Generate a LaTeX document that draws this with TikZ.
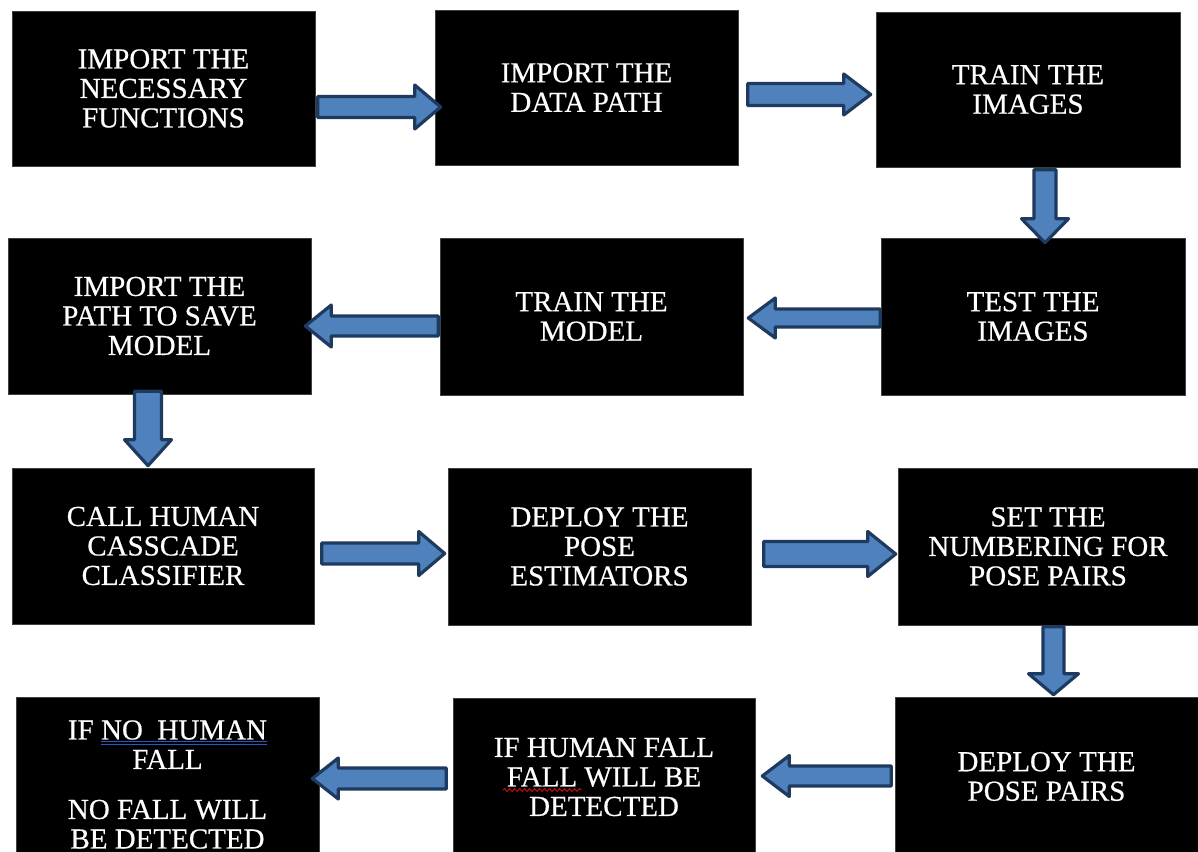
\documentclass[tikz,border=0pt]{standalone}
\usepackage{fontspec}
\setmainfont{Liberation Serif}[FakeBold=0.5]
\usetikzlibrary{calc,decorations.pathmorphing}
\definecolor{arrfill}{HTML}{4F81BD}
\definecolor{arrline}{HTML}{1F3A5F}
\definecolor{ulblue}{HTML}{2A55C8}
\definecolor{wavered}{HTML}{D01010}
\newcommand\dblul[1]{\setbox0\hbox{#1}\rlap{\textcolor{ulblue}{\rule[-2.5pt]{\wd0}{1.2pt}\kern-\wd0\rule[-5.5pt]{\wd0}{1.2pt}}}\box0}
% horizontal block arrow: start, tip, shaft half, head half, head length
\newcommand\harrow[5]{\draw[barrow] let \p1=(#1), \p2=(#2), \n1={ifthenelse(\x2>\x1,1,-1)} in
  (\x1,{\y1+#3pt}) -- ({\x2-(\n1)*#5pt},{\y1+#3pt}) -- ({\x2-(\n1)*#5pt},{\y1+#4pt}) -- (\x2,\y1)
  -- ({\x2-(\n1)*#5pt},{\y1-#4pt}) -- ({\x2-(\n1)*#5pt},{\y1-#3pt}) -- (\x1,{\y1-#3pt}) -- cycle;}
% vertical block arrow
\newcommand\varrow[5]{\draw[barrow] let \p1=(#1), \p2=(#2), \n1={ifthenelse(\y2>\y1,1,-1)} in
  ({\x1-#3pt},\y1) -- ({\x1-#3pt},{\y2-(\n1)*#5pt}) -- ({\x1-#4pt},{\y2-(\n1)*#5pt}) -- (\x1,\y2)
  -- ({\x1+#4pt},{\y2-(\n1)*#5pt}) -- ({\x1+#3pt},{\y2-(\n1)*#5pt}) -- ({\x1+#3pt},\y1) -- cycle;}
\tikzset{
  box/.style={fill=black, draw=black!75, line width=0.6pt, text=white, align=center,
    font=\fontsize{29}{29.5}\selectfont, inner sep=0pt, minimum width=303pt, minimum height=155pt},
  barrow/.style={fill=arrfill, draw=arrline, line width=3.2pt, line join=round},
}
\begin{document}
\begin{tikzpicture}[x=1pt,y=-1pt]
\useasboundingbox (0,0) rectangle (1198,851);
\clip (0,0) rectangle (1198,851);
\fill[white] (0,0) rectangle (1198,851);
% row 1
\node[box] (b1) at (163.5,88.5) {IMPORT THE\\NECESSARY\\FUNCTIONS};
\node[box] (b2) at (586.5,87.5) {IMPORT THE\\DATA PATH};
\node[box, minimum width=304pt] (b3) at (1028,89.5) {TRAIN THE\\IMAGES};
% row 2
\node[box, minimum height=156pt] (b4) at (159.5,316) {IMPORT THE\\PATH TO SAVE\\MODEL};
\node[box, minimum height=157pt] (b5) at (591.5,316.5) {TRAIN THE\\MODEL};
\node[box, minimum width=304pt, minimum height=157pt] (b6) at (1033,316.5) {TEST THE\\IMAGES};
% row 3
\node[box, minimum width=302pt, minimum height=156pt] (b7) at (163,546) {CALL HUMAN\\CASSCADE\\CLASSIFIER};
\node[box, minimum height=157pt] (b8) at (599.5,546.5) {DEPLOY THE\\POSE\\ESTIMATORS};
\node[box, minimum width=300pt, minimum height=157pt] (b9) at (1048,546.5) {SET THE\\NUMBERING FOR\\POSE PAIRS};
% row 4
\node[box, minimum height=175pt] (b10) at (167.5,784.5) {IF \dblul{NO\ \ HUMAN}\\FALL\\[20.5pt]NO FALL WILL\\BE DETECTED};
\node[box, minimum width=302pt, minimum height=158pt] (b11) at (604,777) {IF HUMAN FALL\\FALL WILL BE\\DETECTED};
\node[box, minimum height=159pt] (b12) at (1046.5,776.5) {DEPLOY THE\\POSE PAIRS};
\draw[wavered, line width=0.9pt, decorate, decoration={snake, amplitude=1.4pt, segment length=5pt}]
  ($(b11.center)+(-101,13)$) -- ($(b11.center)+(-22,13)$);
% arrows
\harrow{$(b1.east)+(2.5,18.5)$}{$(b2.west)+(6,0)$}{10.5}{22}{26}
\harrow{$(b2.east)+(9.5,7)$}{$(b3.west)+(-5,0)$}{11}{20.5}{27}
\varrow{$(b3.south)+(17,2.5)$}{$(b6.north)+(0,5)$}{11}{23.5}{24}
\harrow{$(b6.west)+(-0.5,1.5)$}{$(b5.east)+(5,0)$}{9}{20}{27}
\harrow{$(b5.west)+(-1.5,9.5)$}{$(b4.east)+(-6,0)$}{10}{21}{26}
\varrow{$(b4.south)+(-11.5,-3)$}{$(b7.north)+(0,-2)$}{13.5}{23.5}{26}
\harrow{$(b7.east)+(7.5,7.5)$}{$(b8.west)+(-3,0)$}{10.5}{22}{26}
\harrow{$(b8.east)+(12.5,7.5)$}{$(b9.west)+(-2,0)$}{12.5}{22.5}{28}
\varrow{$(b9.south)+(5.5,1.5)$}{$(b12.north)+(0,-2)$}{10.5}{25}{21}
\harrow{$(b12.west)+(-3.5,-0.5)$}{$(b11.east)+(7,0)$}{10}{20.5}{27}
\harrow{$(b11.west)+(-6.5,1.5)$}{$(b10.east)+(-7,0)$}{10.5}{20.5}{26}
\end{tikzpicture}
\end{document}
